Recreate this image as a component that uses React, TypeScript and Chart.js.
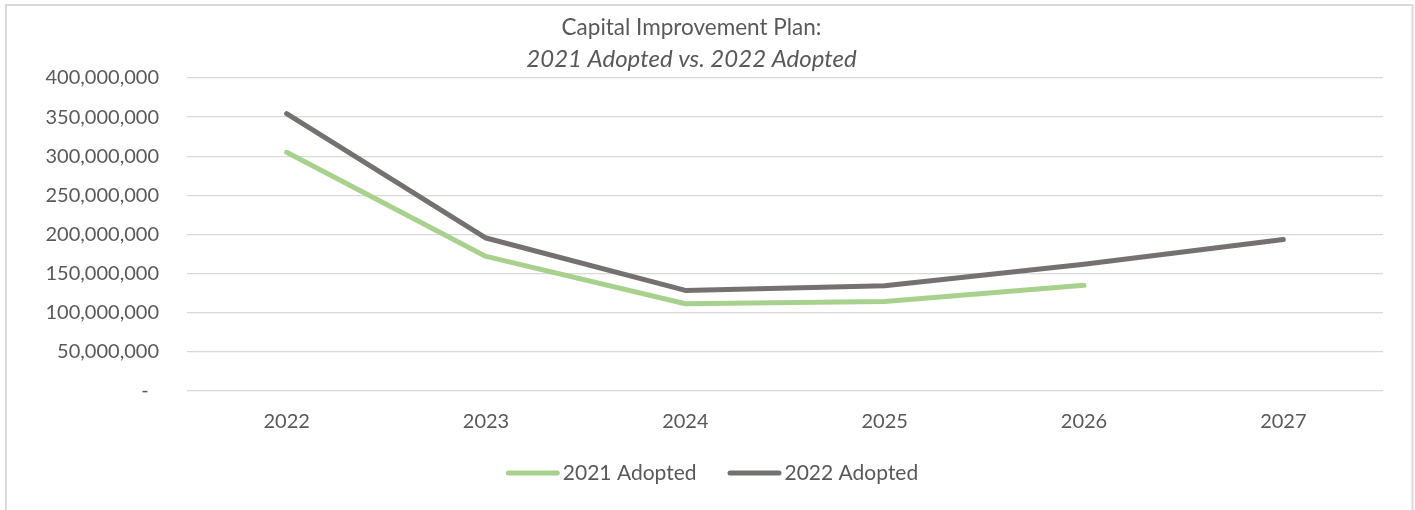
import React, { useEffect, useRef } from "react";
import { Chart, registerables } from "chart.js";

Chart.register(...registerables);

const categories = ["2022", "2023", "2024", "2025", "2026", "2027"];
const adopted2021 = [305000000, 172000000, 111500000, 114500000, 135000000, null];
const adopted2022 = [354500000, 195500000, 128500000, 134500000, 162000000, 193500000];
const seriesNames = ["2021 Adopted", "2022 Adopted"];
const titleLine = "Capital Improvement Plan:";
const subtitleLine = "2021 Adopted vs. 2022 Adopted";

const TEXT = "#595959";
const GRID = "#d9d9d9";

const frame = {
  id: "frame",
  beforeDraw(chart: any) {
    const ctx = chart.ctx;
    ctx.save();
    ctx.fillStyle = "#ffffff";
    ctx.fillRect(0, 0, chart.width, chart.height);
    ctx.strokeStyle = GRID;
    ctx.lineWidth = 2;
    ctx.strokeRect(6, 5, 1406.5, 600);
    ctx.restore();
  },
};

const customLegend = {
  id: "customLegend",
  afterDraw(chart: any) {
    const ctx = chart.ctx;
    const font = "21px Lato";
    const lineLen = 54;
    const gap = 3;
    const itemGap = 31;
    const cy = 473;
    const centerX = 712;
    ctx.save();
    ctx.font = font;
    const items = chart.data.datasets.map((d: any) => ({
      text: d.label,
      color: d.borderColor,
      w: ctx.measureText(d.label).width,
    }));
    const total =
      items.reduce((a: number, it: any) => a + lineLen + gap + it.w, 0) +
      itemGap * (items.length - 1);
    let x = centerX - total / 2;
    for (const it of items) {
      ctx.strokeStyle = it.color;
      ctx.lineWidth = 5;
      ctx.lineCap = "round";
      ctx.beginPath();
      ctx.moveTo(x + 2.5, cy);
      ctx.lineTo(x + lineLen - 2.5, cy);
      ctx.stroke();
      x += lineLen + gap;
      ctx.fillStyle = TEXT;
      ctx.textAlign = "left";
      ctx.textBaseline = "middle";
      ctx.fillText(it.text, x, cy);
      x += it.w + itemGap;
    }
    ctx.restore();
  },
};

export default function App() {
  const ref = useRef<HTMLCanvasElement>(null);
  useEffect(() => {
    if (!ref.current) return;
    const chart = new Chart(ref.current, {
      type: "line",
      data: {
        labels: categories,
        datasets: [
          {
            label: seriesNames[0],
            data: adopted2021,
            borderColor: "#A9D18E",
            backgroundColor: "#A9D18E",
            borderWidth: 5,
            borderCapStyle: "round",
            borderJoinStyle: "round",
            pointRadius: 0,
            pointHoverRadius: 0,
            tension: 0,
            spanGaps: false,
          },
          {
            label: seriesNames[1],
            data: adopted2022,
            borderColor: "#767171",
            backgroundColor: "#767171",
            borderWidth: 5,
            borderCapStyle: "round",
            borderJoinStyle: "round",
            pointRadius: 0,
            pointHoverRadius: 0,
            tension: 0,
          },
        ],
      },
      options: {
        responsive: false,
        animation: false,
        layout: { padding: { top: 0, left: 0, right: 32, bottom: 78 } },
        font: { family: "Lato" },
        plugins: {
          title: {
            display: true,
            text: titleLine,
            color: TEXT,
            font: { family: "Lato", size: 22.5, weight: "normal", lineHeight: 1.2 },
            padding: { top: 14.5, bottom: 0 },
          },
          subtitle: {
            display: true,
            text: subtitleLine,
            color: TEXT,
            font: { family: "Lato", size: 24, style: "italic", weight: "normal", lineHeight: 1.2 },
            padding: { top: 3, bottom: 4.7 },
          },
          legend: { display: false },
          tooltip: { enabled: false },
        },
        scales: {
          x: {
            offset: true,
            grid: { display: false, drawTicks: false },
            border: { display: false },
            ticks: {
              color: TEXT,
              font: { family: "Lato", size: 20 },
              padding: 19,
              maxRotation: 0,
            },
            afterFit: (s: any) => {
              s.height = 41;
            },
          },
          y: {
            min: 0,
            max: 400000000,
            grid: { color: GRID, lineWidth: 1.3, drawTicks: false },
            border: { display: false },
            ticks: {
              stepSize: 50000000,
              color: TEXT,
              font: { family: "Lato", size: 20 },
              padding: 28,
              callback: (v: any) =>
                Number(v) === 0 ? "-  " : Number(v).toLocaleString("en-US"),
            },
            afterFit: (s: any) => {
              s.width = 187;
            },
          },
        },
      },
      plugins: [frame, customLegend],
    });
    return () => chart.destroy();
  }, []);
  return (
    <canvas
      ref={ref}
      width={1415}
      height={510}
      style={{ position: "absolute", left: 0, top: 0, display: "block" }}
    />
  );
}
